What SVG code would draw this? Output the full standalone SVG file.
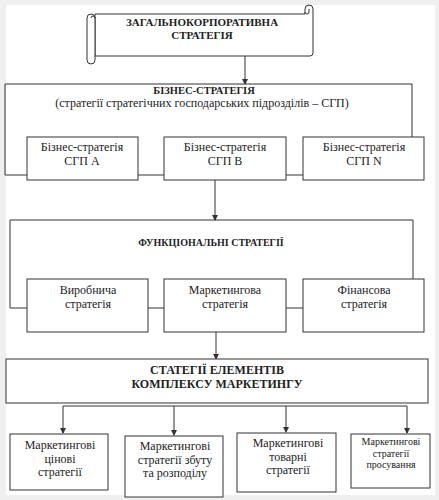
<svg xmlns="http://www.w3.org/2000/svg" width="439" height="500" viewBox="0 0 439 500">
<defs>
<marker id="ah" markerWidth="6" markerHeight="6" refX="5" refY="3" orient="auto" markerUnits="userSpaceOnUse">
<path d="M0,0 L6,3 L0,6 z" fill="#333"/>
</marker>
<style>
.b{fill:#fff;stroke:#333;stroke-width:1}
.l{fill:none;stroke:#333;stroke-width:1}
.t{font-family:"Liberation Serif","Times New Roman",serif;fill:#222;text-anchor:middle}
.h{font-weight:bold}
</style>
</defs>
<rect x="0" y="0" width="439" height="500" fill="#efefef"/>
<rect x="6" y="5" width="429" height="490" fill="#fff"/>
<g id="corp">
<path class="b" d="M95,14 L305,14 L305,9 A4,4 0 0 1 313,9 L313,53 A3,3 0 0 1 310,56 L95,56 Z"/>
<path class="l" d="M305,12 A2,2 0 0 0 309,12 L309,9"/>
<path class="b" d="M87,18 A4,4 0 0 1 95,18 L95,60 A4,4 0 0 1 87,60 Z"/>
<path class="l" d="M91,18 A2,2 0 0 1 95,18"/>
<text class="t h" x="202" y="26" font-size="11">ЗАГАЛЬНОКОРПОРАТИВНА</text>
<text class="t h" x="202" y="39" font-size="11">СТРАТЕГІЯ</text>
</g>
<g id="connectors">
<line class="l" x1="245" y1="56" x2="245" y2="84" marker-end="url(#ah)"/>
<polyline class="l" points="27,175 5,175 5,84 412,84 412,137"/>
<line class="l" x1="138" y1="175" x2="164" y2="175"/>
<line class="l" x1="286" y1="175" x2="303" y2="175"/>
<line class="l" x1="215" y1="180" x2="215" y2="220" marker-end="url(#ah)"/>
<polyline class="l" points="27,308 10,308 10,220 413,220 413,279"/>
<line class="l" x1="148" y1="308" x2="164" y2="308"/>
<line class="l" x1="286" y1="308" x2="303" y2="308"/>
<line class="l" x1="216" y1="332" x2="216" y2="359" marker-end="url(#ah)"/>
<line class="l" x1="63" y1="406" x2="407" y2="406"/>
<line class="l" x1="63" y1="406" x2="63" y2="433" marker-end="url(#ah)"/>
<line class="l" x1="174" y1="406" x2="174" y2="435" marker-end="url(#ah)"/>
<line class="l" x1="286" y1="406" x2="286" y2="432" marker-end="url(#ah)"/>
<line class="l" x1="407" y1="406" x2="407" y2="433" marker-end="url(#ah)"/>
</g>
<g id="business">
<text class="t h" x="204" y="94" font-size="10.5">БІЗНЕС-СТРАТЕГІЯ</text>
<text class="t" x="202" y="107" font-size="12">(стратегії стратегічних господарських підрозділів – СГП)</text>
</g>
<g id="sgpA">
<rect class="b" x="27" y="137" width="111" height="43"/>
<text class="t" x="82" y="151" font-size="12">Бізнес-стратегія</text>
<text class="t" x="82" y="165" font-size="12">СГП А</text>
</g>
<g id="sgpB">
<rect class="b" x="164" y="137" width="122" height="43"/>
<text class="t" x="225" y="151" font-size="12">Бізнес-стратегія</text>
<text class="t" x="225" y="165" font-size="12">СГП В</text>
</g>
<g id="sgpN">
<rect class="b" x="303" y="137" width="121" height="43"/>
<text class="t" x="364" y="151" font-size="12">Бізнес-стратегія</text>
<text class="t" x="364" y="165" font-size="12">СГП N</text>
</g>
<g id="functional">
<text class="t h" x="211" y="246" font-size="10">ФУНКЦІОНАЛЬНІ СТРАТЕГІЇ</text>
</g>
<g id="production">
<rect class="b" x="27" y="279" width="121" height="53"/>
<text class="t" x="88" y="294" font-size="12">Виробнича</text>
<text class="t" x="88" y="308" font-size="12">стратегія</text>
</g>
<g id="marketing">
<rect class="b" x="164" y="279" width="122" height="53"/>
<text class="t" x="225" y="294" font-size="12">Маркетингова</text>
<text class="t" x="225" y="308" font-size="12">стратегія</text>
</g>
<g id="finance">
<rect class="b" x="303" y="279" width="121" height="53"/>
<text class="t" x="364" y="294" font-size="12">Фінансова</text>
<text class="t" x="364" y="308" font-size="12">стратегія</text>
</g>
<g id="mix">
<rect class="b" x="6" y="359" width="422" height="44"/>
<text class="t h" x="217" y="374" font-size="12">СТАТЕГІЇ ЕЛЕМЕНТІВ</text>
<text class="t h" x="217" y="388" font-size="12">КОМПЛЕКСУ МАРКЕТИНГУ</text>
</g>
<g id="price">
<rect class="b" x="10" y="434" width="98" height="56"/>
<text class="t" x="60" y="449" font-size="12">Маркетингові</text>
<text class="t" x="60" y="462.5" font-size="12">цінові</text>
<text class="t" x="60" y="476" font-size="12">стратегії</text>
</g>
<g id="distribution">
<rect class="b" x="125" y="436" width="98" height="61"/>
<text class="t" x="175" y="450" font-size="12">Маркетингові</text>
<text class="t" x="175" y="463.5" font-size="12">стратегії збуту</text>
<text class="t" x="175" y="477" font-size="12">та розподілу</text>
</g>
<g id="product">
<rect class="b" x="237" y="433" width="99" height="59"/>
<text class="t" x="288" y="447" font-size="12">Маркетингові</text>
<text class="t" x="288" y="460.5" font-size="12">товарні</text>
<text class="t" x="288" y="474" font-size="12">стратегії</text>
</g>
<g id="promotion">
<rect class="b" x="351" y="434" width="79" height="54"/>
<text class="t" x="391" y="445" font-size="10">Маркетингові</text>
<text class="t" x="391" y="456.5" font-size="10">стратегії</text>
<text class="t" x="391" y="468" font-size="10">просування</text>
</g>
</svg>
